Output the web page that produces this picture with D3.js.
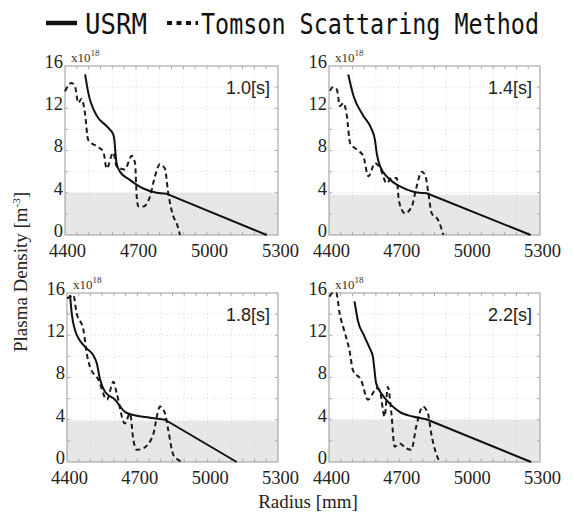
<!DOCTYPE html>
<html>
<head>
<meta charset="utf-8">
<script src="https://cdn.jsdelivr.net/npm/d3@7"></script>
<style>
  html, body { margin: 0; padding: 0; background: #fff; }
  svg { display: block; }
</style>
</head>
<body>
<div id="chart"></div>
<script>
// values (radius mm, density x1e18 m^-3)
const radiusTicks = [4400, 4700, 5000, 5300];
const densityTicks = [0, 4, 8, 12, 16];
const timeLabels = ['1.0[s]', '1.4[s]', '1.8[s]', '2.2[s]'];
const cutoffDensity = [4, 3.8, 3.9, 4];

const usrm10 = [[4485,15.2],[4498,13.5],[4534,11.3],[4576,10.3],[4604,9.5],[4610,8.7],[4613,7.8],[4618,6.8],[4632,6.0],[4675,5.2],[4731,4.4],[4787,4.0],[4830,3.9],[5252,0]];
const usrm14 = [[4482,15.2],[4504,13.2],[4546,11.3],[4582,10.0],[4596,9.0],[4603,7.8],[4618,6.5],[4653,5.4],[4703,4.6],[4760,4.1],[4817,3.95],[5260,0]];
const usrm18 = [[4413,15.8],[4420,14.1],[4434,12.5],[4477,10.9],[4512,10.1],[4527,9.35],[4541,7.8],[4562,6.65],[4605,5.9],[4647,4.75],[4683,4.45],[4754,4.2],[4818,4.0],[5124,0]];
const usrm22 = [[4509,15.2],[4523,13.4],[4551,11.9],[4573,10.8],[4587,10.0],[4594,8.7],[4601,7.45],[4623,6.5],[4658,5.55],[4701,4.75],[4758,4.3],[4815,4.05],[5262,0]];

const thomson10 = [[4400,13.6],[4428,14.4],[4442,14.1],[4456,12.5],[4470,12.9],[4484,11.6],[4498,9.0],[4534,8.4],[4562,7.9],[4576,6.3],[4604,7.8],[4618,6.5],[4653,6.2],[4682,7.5],[4696,6.8],[4703,3.65],[4710,2.7],[4731,2.7],[4759,3.65],[4780,5.55],[4801,6.7],[4822,6.3],[4836,4.0],[4858,1.75],[4872,1.1],[4886,0]];
const thomson14 = [[4404,13.65],[4418,14.0],[4433,13.8],[4447,12.2],[4461,12.5],[4476,11.3],[4490,8.7],[4518,8.1],[4546,7.5],[4568,5.55],[4596,6.8],[4618,6.35],[4646,4.9],[4667,5.4],[4689,5.4],[4696,3.65],[4710,2.4],[4724,2.05],[4753,2.7],[4774,4.6],[4795,6.0],[4810,5.7],[4824,3.95],[4838,2.05],[4866,1.4],[4888,0]];
const thomson18 = [[4400,15.5],[4413,15.65],[4427,15.8],[4441,14.1],[4470,12.5],[4484,10.3],[4498,9.0],[4534,7.8],[4570,5.9],[4598,7.6],[4612,6.5],[4647,3.65],[4669,4.6],[4683,2.1],[4698,1.15],[4726,1.3],[4769,2.7],[4783,4.3],[4797,5.25],[4818,4.6],[4832,3.0],[4854,0.65],[4875,0.2],[4890,0]];
const thomson22 = [[4402,15.65],[4416,16.0],[4431,16.0],[4445,14.1],[4466,12.35],[4487,10.6],[4502,8.7],[4537,7.75],[4566,5.9],[4587,6.5],[4601,7.0],[4616,6.8],[4637,4.3],[4651,7.1],[4665,4.9],[4680,1.45],[4701,1.75],[4729,1.3],[4751,1.15],[4772,3.35],[4800,5.25],[4822,4.6],[4836,2.7],[4857,0.8],[4872,0]];

const usrmSeries = [usrm10, usrm14, usrm18, usrm22];
const thomsonSeries = [thomson10, thomson14, thomson18, thomson22];

// panel frames in pixels
const frames = [
  { left: 65, right: 278, top: 66, bottom: 235 },
  { left: 329, right: 540, top: 66, bottom: 235 },
  { left: 67, right: 278, top: 293, bottom: 462 },
  { left: 329, right: 540, top: 293, bottom: 462 }
];

const width = 574, height = 515;
const serif = 'Liberation Serif, Times New Roman, serif';
const sans = 'Liberation Sans, Arial, sans-serif';

const svg = d3.select('#chart').append('svg')
  .attr('width', width)
  .attr('height', height);

// legend (tall, narrow monospace lettering)
const legend = svg.append('g').attr('class', 'legend')
  .attr('font-family', 'DejaVu Sans Mono, monospace')
  .attr('font-size', 23)
  .attr('fill', '#111');
legend.append('line')
  .attr('x1', 46).attr('x2', 77).attr('y1', 23).attr('y2', 23)
  .attr('stroke', '#111').attr('stroke-width', 4.5);
legend.append('text')
  .attr('transform', 'translate(85,34) scale(1,1.2)')
  .attr('textLength', 62).attr('lengthAdjust', 'spacingAndGlyphs')
  .text('USRM');
legend.append('line')
  .attr('x1', 167).attr('x2', 198).attr('y1', 23).attr('y2', 23)
  .attr('stroke', '#111').attr('stroke-width', 4)
  .attr('stroke-dasharray', '5,4.5');
legend.append('text')
  .attr('transform', 'translate(201,34) scale(1,1.2)')
  .attr('textLength', 338).attr('lengthAdjust', 'spacingAndGlyphs')
  .text('Tomson Scattaring Method');

function drawPanel(i) {
  const f = frames[i];
  const x = d3.scaleLinear().domain([4400, 5300]).range([f.left, f.right]);
  const y = d3.scaleLinear().domain([0, 16]).range([f.bottom, f.top]);
  const g = svg.append('g').attr('class', 'panel');

  // shaded region below cutoff
  g.append('rect')
    .attr('x', x(4400)).attr('y', y(cutoffDensity[i]))
    .attr('width', x(5300) - x(4400))
    .attr('height', y(0) - y(cutoffDensity[i]))
    .attr('fill', '#e7e7e7');

  // dotted grid
  g.selectAll('.vgrid').data(d3.range(4500, 5300, 100)).enter().append('line')
    .attr('x1', d => x(d)).attr('x2', d => x(d))
    .attr('y1', y(0)).attr('y2', y(16))
    .attr('stroke', '#cfcfcf').attr('stroke-width', 0.8)
    .attr('stroke-dasharray', '1,3');
  g.selectAll('.hgrid').data(d3.range(2, 16, 2)).enter().append('line')
    .attr('x1', x(4400)).attr('x2', x(5300))
    .attr('y1', d => y(d)).attr('y2', d => y(d))
    .attr('stroke', '#cfcfcf').attr('stroke-width', 0.8)
    .attr('stroke-dasharray', '1,3');

  // frame with small inward ticks
  g.append('rect')
    .attr('x', x(4400)).attr('y', y(16))
    .attr('width', x(5300) - x(4400)).attr('height', y(0) - y(16))
    .attr('fill', 'none').attr('stroke', '#9a9a9a').attr('stroke-width', 1);
  const xMinor = d3.range(4450, 5300, 50);
  g.selectAll('.tt').data(xMinor).enter().append('line')
    .attr('x1', d => x(d)).attr('x2', d => x(d))
    .attr('y1', y(16)).attr('y2', y(16) + 3)
    .attr('stroke', '#aaa');
  g.selectAll('.bt').data(xMinor).enter().append('line')
    .attr('x1', d => x(d)).attr('x2', d => x(d))
    .attr('y1', y(0)).attr('y2', y(0) - 3)
    .attr('stroke', '#aaa');
  const yMinor = d3.range(2, 16, 2);
  g.selectAll('.rt').data(yMinor).enter().append('line')
    .attr('x1', x(5300)).attr('x2', x(5300) - 3)
    .attr('y1', d => y(d)).attr('y2', d => y(d))
    .attr('stroke', '#aaa');
  g.selectAll('.lt').data(yMinor).enter().append('line')
    .attr('x1', x(4400)).attr('x2', x(4400) + 3)
    .attr('y1', d => y(d)).attr('y2', d => y(d))
    .attr('stroke', '#aaa');

  // axes (labels only)
  const xAxis = g.append('g')
    .attr('transform', `translate(0,${f.bottom})`)
    .call(d3.axisBottom(x).tickValues(radiusTicks).tickFormat(d3.format('d'))
      .tickSize(0).tickPadding(8.5));
  const yAxis = g.append('g')
    .attr('transform', `translate(${f.left},0)`)
    .call(d3.axisLeft(y).tickValues(densityTicks).tickFormat(d3.format('d'))
      .tickSize(0).tickPadding(2));
  [xAxis, yAxis].forEach(a => {
    a.attr('font-family', serif).attr('font-size', 18.5);
    a.select('.domain').remove();
    a.selectAll('text').attr('fill', '#222');
  });
  xAxis.selectAll('text').attr('dx', '2');
  yAxis.selectAll('text').attr('dy', '0.08em');

  // exponent
  const exp = g.append('text')
    .attr('x', f.left + 6).attr('y', f.top - 4)
    .attr('font-family', serif).attr('font-size', 13).attr('fill', '#333');
  exp.append('tspan').text('x10');
  exp.append('tspan').attr('dy', -6).attr('font-size', 9).text('18');

  // curves
  const smooth = d3.line()
    .x(d => x(d[0])).y(d => y(d[1]))
    .curve(d3.curveMonotoneX);
  g.append('path')
    .datum(thomsonSeries[i])
    .attr('d', smooth)
    .attr('fill', 'none').attr('stroke', '#1a1a1a')
    .attr('stroke-width', 2).attr('stroke-dasharray', '5,3.5');
  // USRM: smooth profile, then a straight run down to zero
  const pts = usrmSeries[i];
  const last = pts[pts.length - 1];
  g.append('path')
    .attr('d', smooth(pts.slice(0, -1)) + `L${x(last[0])},${y(last[1])}`)
    .attr('fill', 'none').attr('stroke', '#111')
    .attr('stroke-width', 2).attr('stroke-linejoin', 'round');

  // time label
  g.append('text')
    .attr('x', f.right - 8).attr('y', f.top + 28)
    .attr('text-anchor', 'end')
    .attr('font-family', sans).attr('font-size', 18).attr('fill', '#222')
    .text(timeLabels[i]);
}

frames.forEach((f, i) => drawPanel(i));

// axis titles
const yTitle = svg.append('text')
  .attr('transform', 'translate(27,272) rotate(-90)')
  .attr('text-anchor', 'middle')
  .attr('font-family', serif).attr('font-size', 19).attr('fill', '#222');
yTitle.append('tspan').text('Plasma Density [m');
yTitle.append('tspan').attr('dy', -7).attr('font-size', 11).text('-3');
yTitle.append('tspan').attr('dy', 7).text(']');

svg.append('text')
  .attr('x', 308).attr('y', 508)
  .attr('text-anchor', 'middle')
  .attr('font-family', serif).attr('font-size', 19).attr('fill', '#222')
  .text('Radius [mm]');
</script>
</body>
</html>
